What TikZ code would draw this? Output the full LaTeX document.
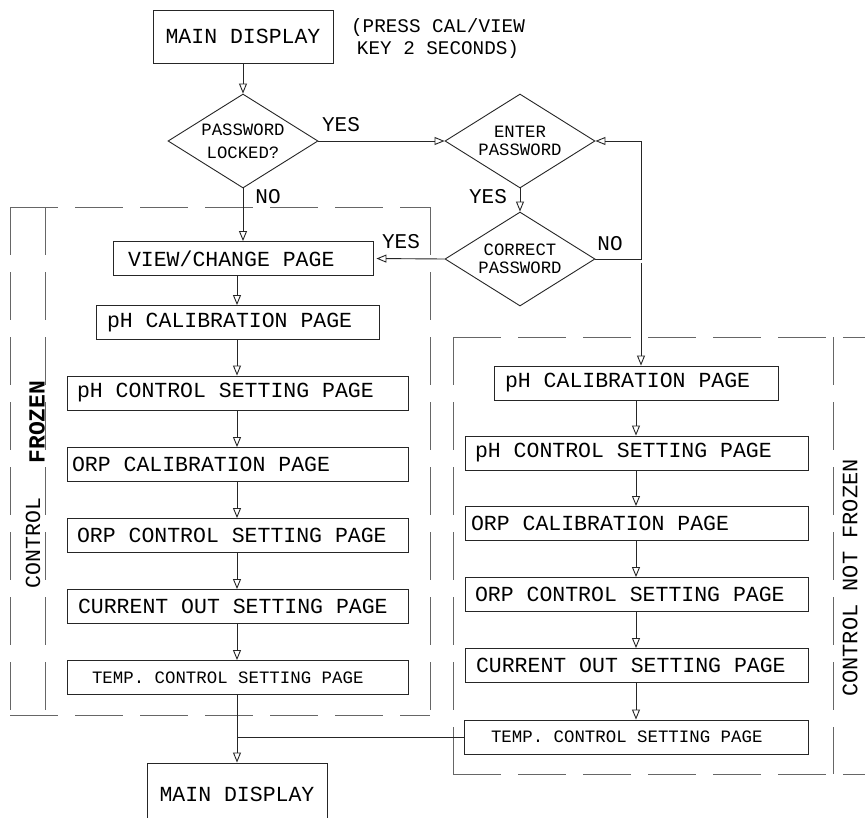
\documentclass[tikz,border=0pt]{standalone}
\usepackage{fontspec}
\setmainfont{Liberation Mono}
\usetikzlibrary{arrows.meta,shapes.geometric,calc}
\newcommand{\fsmain}{\fontsize{21.5}{24}\selectfont}
\newcommand{\fssmall}{\fontsize{17.4}{20}\selectfont}
\newcommand{\fsdia}{\fontsize{17.3}{18.5}\selectfont}
\newcommand{\fslbl}{\fontsize{21}{24}\selectfont}
\newcommand{\fsnote}{\fontsize{19.3}{22}\selectfont}
\tikzset{
  pbox/.style={draw=black!85, line width=0.9pt, minimum height=34pt, align=flush left, font=\fsmain, inner ysep=0pt},
  dia/.style={diamond, draw=black!85, line width=0.9pt, aspect=1.6, inner sep=0pt, minimum width=150pt, minimum height=94pt, align=center, font=\fsdia},
  arr/.style={-{Triangle[open,length=10pt,width=8pt]}, line width=0.9pt, draw=black!85},
  conn/.style={line width=0.9pt, draw=black!85},
  dsh/.style={draw=black!60, line width=1pt, dash pattern=on 48pt off 17pt},
  lbl/.style={font=\fslbl, inner sep=0pt},
}
\begin{document}
\begin{tikzpicture}[x=1pt,y=-1pt]
\useasboundingbox (0,0) rectangle (865,817);
\fill[white] (0,0) rectangle (865,817);
\clip (0,0) rectangle (865,817);

% dashed groups
\draw[dsh] (10,207) -- (430,207);
\draw[dsh] (10,207) -- (10,715);
\draw[dsh] (45,207) -- (45,715);
\draw[dsh] (430,207) -- (430,715);
\draw[dsh] (10,715) -- (430,715);

\draw[dsh] (453,337) -- (880,337);
\draw[dsh] (453,337) -- (453,774);
\draw[dsh] (833,337) -- (833,774);
\draw[dsh] (453,774) -- (880,774);

% column coordinates
\coordinate (colL) at (237,0);
\coordinate (loopc) at (641,259);
\coordinate (dnc) at (641,263);

% top
\node[pbox, minimum width=180pt, minimum height=53pt, align=center] (main1) at (243,36.5) {MAIN DISPLAY};
\node[font=\fsnote, align=center, inner sep=0pt] (note) at (438,39) {(PRESS CAL/VIEW\\KEY 2 SECONDS)};

% diamonds
\node[dia, font=\fontsize{17.3}{23}\selectfont] (d1) at (243,141) {PASSWORD\\LOCKED?};
\node[dia] (d2) at (520,141) {ENTER\\PASSWORD};
\node[dia] (d3) at (520,259) {CORRECT\\PASSWORD};

% left column
\node[pbox, text width=230pt, inner xsep=15pt] (view) at (243,258.5) {VIEW/CHANGE PAGE};
\node[pbox, text width=261pt, inner xsep=11pt] (phcL) at (237.5,322.5) {pH CALIBRATION PAGE};
\node[pbox, text width=321pt, inner xsep=10pt] (phsL) at (237.5,393) {pH CONTROL SETTING PAGE};
\node[pbox, text width=331pt, inner xsep=5pt] (orpcL) at (237.5,464.5) {ORP CALIBRATION PAGE};
\node[pbox, text width=321pt, inner xsep=10pt] (orpsL) at (237.5,535.5) {ORP CONTROL SETTING PAGE};
\node[pbox, text width=319pt, inner xsep=11pt] (curL) at (237.5,606.5) {CURRENT OUT SETTING PAGE};
\node[pbox, font=\fssmall, text width=291pt, inner xsep=25pt] (tmpL) at (237.5,677.5) {TEMP. CONTROL SETTING PAGE};

% right column
\node[pbox, text width=262pt, inner xsep=11pt] (phcR) at (636,383) {pH CALIBRATION PAGE};
\node[pbox, text width=323pt, inner xsep=10pt] (phsR) at (636.5,453) {pH CONTROL SETTING PAGE};
\node[pbox, text width=331pt, inner xsep=6pt] (orpcR) at (636.5,523.5) {ORP CALIBRATION PAGE};
\node[pbox, text width=323pt, inner xsep=10pt] (orpsR) at (636.5,594.5) {ORP CONTROL SETTING PAGE};
\node[pbox, text width=321pt, inner xsep=11pt] (curR) at (636.5,665.5) {CURRENT OUT SETTING PAGE};
\node[pbox, font=\fssmall, text width=290pt, inner xsep=27pt] (tmpR) at (636,737) {TEMP. CONTROL SETTING PAGE};

% bottom
\node[pbox, minimum width=180pt, minimum height=62pt, align=center] (main2) at (237,794) {MAIN DISPLAY};

% labels
\node[lbl] (yes1) at (341,125) {YES};
\node[lbl] (no1) at (268,197) {NO};
\node[lbl] (yes2) at (488,197) {YES};
\node[lbl] (yes3) at (401,242) {YES};
\node[lbl] (no3) at (610,244) {NO};
\node[font=\fontsize{21.5}{24}\selectfont, rotate=90, inner sep=0pt] (ctlL) at (33,543) {CONTROL};
\node[font=\fontsize{23}{24}\selectfont\bfseries, rotate=90, inner sep=0pt] (frzL) at (37,422) {FROZEN};
\node[font=\fontsize{22}{24}\selectfont, rotate=90, inner sep=0pt] (ctlR) at (850,578) {CONTROL NOT FROZEN};

% connectors
\draw[arr] (main1.south) -- (d1.north);
\draw[arr] (d1.east) -- (d2.west);
\draw[arr] (d1.south) -- (view.north);
\draw[arr] (d2.south) -- (d3.north);
\draw[arr, shorten >=3pt] (d3.west) -- (view.east);
\draw[arr] (d3.east) -- (loopc) |- (d2.east);
\draw[arr] (dnc) -- (dnc |- phcR.north);

\draw[arr] (view.south -| colL) -- (phcL.north -| colL);
\draw[arr] (phcL.south -| colL) -- (phsL.north -| colL);
\draw[arr] (phsL.south -| colL) -- (orpcL.north -| colL);
\draw[arr] (orpcL.south -| colL) -- (orpsL.north -| colL);
\draw[arr] (orpsL.south -| colL) -- (curL.north -| colL);
\draw[arr] (curL.south -| colL) -- (tmpL.north -| colL);
\draw[arr] (tmpL.south -| colL) -- (main2.north -| colL);

\draw[arr] (phcR.south) -- (phsR.north -| phcR.south);
\draw[arr] (phsR.south -| phcR.south) -- (orpcR.north -| phcR.south);
\draw[arr] (orpcR.south -| phcR.south) -- (orpsR.north -| phcR.south);
\draw[arr] (orpsR.south -| phcR.south) -- (curR.north -| phcR.south);
\draw[arr] (curR.south -| phcR.south) -- (tmpR.north -| phcR.south);
\draw[conn] (tmpR.west) -- (tmpR.west -| colL);
\end{tikzpicture}
\end{document}
